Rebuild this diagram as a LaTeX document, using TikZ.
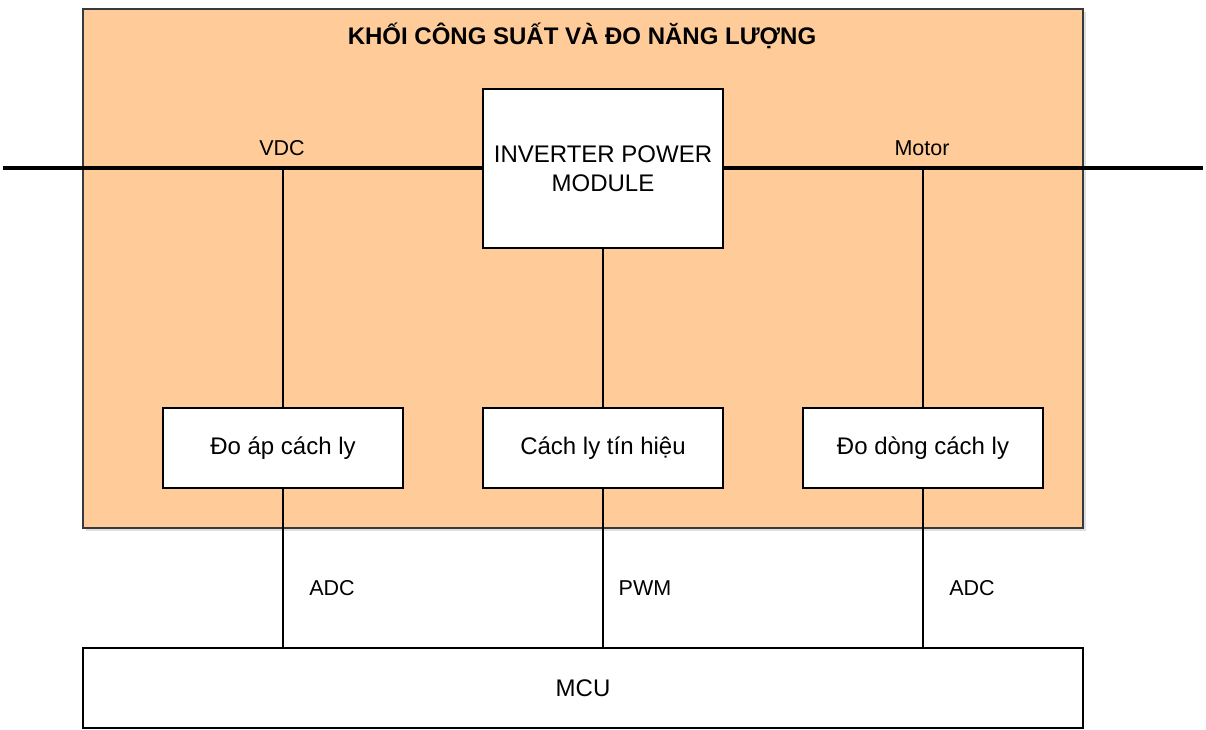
\documentclass[tikz,border=0pt]{standalone}
\usepackage{fontspec}
\setmainfont{Liberation Sans}
\usetikzlibrary{shadows}
\definecolor{orangefill}{HTML}{FFCC99}
\definecolor{darkborder}{HTML}{36393D}
\tikzset{
  blk/.style={draw=black, line width=2pt, fill=white, minimum width=240pt, minimum height=80pt, inner sep=0pt, font=\fontsize{24}{29}\selectfont, align=center},
  lbl/.style={font=\fontsize{21.5}{25}\selectfont, inner sep=0pt},
  wire/.style={draw=black, line width=2pt},
  bus/.style={draw=black, line width=3.5pt}
}
\begin{document}
\begin{tikzpicture}[x=1pt,y=-1pt]
\useasboundingbox (0,0) rectangle (1206,730);
% container
\node[draw=darkborder, line width=2pt, fill=orangefill, minimum width=1000pt, minimum height=519pt, inner sep=0pt,
  drop shadow={shadow xshift=3pt, shadow yshift=-3pt, opacity=0.25}] (pwr) at (583,268.5) {};
\node[font=\bfseries\fontsize{24}{28}\selectfont, inner sep=0pt] (title) at (582,36) {KHỐI CÔNG SUẤT VÀ ĐO NĂNG LƯỢNG};
% blocks
\node[blk, minimum height=159pt] (inv) at (603,168.5) {INVERTER POWER\\MODULE};
\node[blk] (b1) at (283,448) {Đo áp cách ly};
\node[blk] (b2) at (603,448) {Cách ly tín hiệu};
\node[blk] (b3) at (923,448) {Đo dòng cách ly};
\node[blk, minimum width=1000pt] (mcu) at (583,688) {MCU};
% bus coordinates
\coordinate (busL) at (3,168);
\coordinate (busR) at (1203,168);
\coordinate (tapV) at (283,168);
\coordinate (tapM) at (923,168);
\draw[bus] (busL) -- (inv.west |- busL);
\draw[bus] (inv.east |- busR) -- (busR);
\draw[wire] (tapV) -- (b1.north);
\draw[wire] (tapM) -- (b3.north);
\draw[wire] (inv.south) -- (b2.north);
\draw[wire] (b1.south) -- (b1.south |- mcu.north);
\draw[wire] (b2.south) -- (b2.south |- mcu.north);
\draw[wire] (b3.south) -- (b3.south |- mcu.north);
% labels
\node[lbl] (lv) at (282,148) {VDC};
\node[lbl] (lm) at (922,148) {Motor};
\node[lbl] (la1) at (332,588) {ADC};
\node[lbl] (lp) at (645,588) {PWM};
\node[lbl] (la2) at (972,588) {ADC};
\end{tikzpicture}
\end{document}
